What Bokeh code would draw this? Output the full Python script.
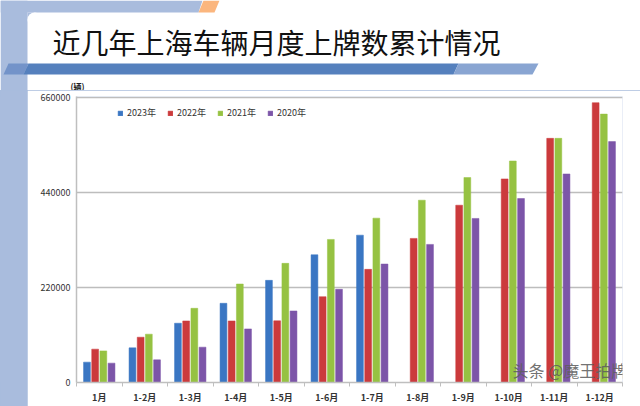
import numpy as np
from bokeh.plotting import figure
from bokeh.layouts import column, row
from bokeh.models import Range1d, FixedTicker, Label, Legend, LegendItem
from bokeh.embed import file_html
from bokeh.resources import INLINE

# ---------------- data ----------------
categories = ["1月", "1-2月", "1-3月", "1-4月", "1-5月", "1-6月", "1-7月",
              "1-8月", "1-9月", "1-10月", "1-11月", "1-12月"]
series_names = ["2023年", "2022年", "2021年", "2020年"]
v2023 = [47200, 80300, 137400, 183600, 236800, 296100, 341600]
v2022 = [77300, 105000, 142700, 142700, 143000, 198900, 262300, 334000, 411000, 471900, 566000, 648600]
v2021 = [73300, 112000, 172000, 228300, 276200, 331700, 381000, 422600, 475100, 513500, 566000, 622200]
v2020 = [44900, 52500, 81900, 124200, 165800, 216000, 274600, 320100, 380300, 426500, 483400, 558400]
y_ticks = [0, 220000, 440000, 660000]
title_text = "近几年上海车辆月度上牌数累计情况"
unit_text = "(辆)"
watermark = "头条 @魔王拍牌"

colors = ["#3a76c3", "#cb3a3c", "#96c242", "#7c55a8"]
FONT = "Noto Sans CJK SC"
STRIP = "#a9bcdd"

W, H = 640, 406
HEAD_H = 90          # header figure height
STRIP_W = 27         # left strip width
MAIN_H = H - HEAD_H

# ---------------- header (decorations + title) ----------------
hd = figure(width=W, height=HEAD_H, x_range=Range1d(0, W), y_range=Range1d(HEAD_H, 0),
            output_backend="svg", toolbar_location=None, x_axis_location=None,
            y_axis_location=None, min_border=0)
hd.background_fill_color = "white"
hd.border_fill_color = "white"
hd.outline_line_color = None
hd.xgrid.visible = False
hd.ygrid.visible = False

hd.patches(xs=[[0, STRIP_W, STRIP_W, 0],
               [0, 202, 198, 0],
               [STRIP_W, 34, 34, STRIP_W]],
           ys=[[0, 0, HEAD_H, HEAD_H],
               [0, 0, 12, 12],
               [12, 12, 19, 19]],
           fill_color=STRIP, line_color=None)
hd.circle(x=[34], y=[19], radius=7, fill_color="white", line_color=None)
hd.patches(xs=[[203, 219, 214, 198]], ys=[[0, 0, 12, 12]], fill_color="#fbb67e", line_color=None)
hd.patches(xs=[[8, 28, 23, 3], [28, 458, 453, 23], [458, 538, 532, 453]],
           ys=[[63, 63, 74, 74]] * 3,
           fill_color=["#7393c9", "#5580bd", "#89a5d2"], line_color=None)

hd.add_layout(Label(x=52, y=41, text=title_text, text_font=FONT, text_font_size="28px",
                    text_color="#111111", text_baseline="middle", text_align="left"))
hd.add_layout(Label(x=77, y=85.5, text=unit_text, text_font=FONT, text_font_size="8px",
                    text_font_style="bold", text_color="#222222",
                    text_baseline="middle", text_align="center"))

# ---------------- left strip ----------------
st = figure(width=STRIP_W, height=MAIN_H, output_backend="svg", toolbar_location=None,
            x_axis_location=None, y_axis_location=None, min_border=0,
            x_range=Range1d(0, 1), y_range=Range1d(0, 1))
st.background_fill_color = STRIP
st.border_fill_color = STRIP
st.outline_line_color = None
st.xgrid.visible = False
st.ygrid.visible = False

# ---------------- main chart ----------------
FL, FR, FT, FB = 76 - STRIP_W, 18, 96 - HEAD_H, 23
p = figure(width=W - STRIP_W, height=MAIN_H, x_range=Range1d(0, len(categories)),
           y_range=Range1d(0, 663000), output_backend="svg", toolbar_location=None,
           min_border_left=FL, min_border_right=FR, min_border_top=FT, min_border_bottom=FB)
p.background_fill_color = "white"
p.border_fill_color = "white"
p.outline_line_color = None

centers = np.arange(len(categories)) + 0.5
offsets = [-0.27, -0.09, 0.09, 0.27]
bw = 0.15
renderers = []
for vals, off, col in zip([v2023, v2022, v2021, v2020], offsets, colors):
    n = len(vals)
    r = p.vbar(x=centers[:n] + off, top=vals, width=bw, fill_color=col, line_color=col,
               line_width=0.5)
    renderers.append(r)

legend = Legend(items=[LegendItem(label=nm, renderers=[r]) for nm, r in zip(series_names, renderers)],
                orientation="horizontal", location=(41, 263),
                glyph_width=6, glyph_height=6, label_height=10, label_standoff=4, spacing=11,
                padding=0, margin=0, border_line_color=None, background_fill_alpha=0,
                label_text_font=FONT, label_text_font_size="9px", label_text_color="#333333")
p.add_layout(legend, "center")

p.xaxis.ticker = FixedTicker(ticks=list(centers), minor_ticks=list(range(len(categories) + 1)))
p.xaxis.major_label_overrides = {float(c): lab for c, lab in zip(centers, categories)}
p.xaxis.major_tick_line_color = None
p.xaxis.major_tick_out = 0
p.xaxis.major_tick_in = 0
p.xaxis.minor_tick_line_color = "#bfbfbf"
p.xaxis.minor_tick_out = 4
p.xaxis.minor_tick_in = 0
p.xaxis.axis_line_color = "#bfbfbf"
p.xaxis.axis_line_width = 1.5
p.xaxis.major_label_standoff = 4
p.xaxis.major_label_text_font = FONT
p.xaxis.major_label_text_font_size = "9px"
p.xaxis.major_label_text_font_style = "bold"
p.xaxis.major_label_text_color = "#333333"

p.yaxis.ticker = FixedTicker(ticks=y_ticks)
p.yaxis.formatter.use_scientific = False
p.yaxis.major_tick_line_color = None
p.yaxis.major_tick_out = 0
p.yaxis.major_tick_in = 0
p.yaxis.minor_tick_line_color = None
p.yaxis.axis_line_color = "#bfbfbf"
p.yaxis.axis_line_width = 1.5
p.yaxis.major_label_standoff = 6
p.yaxis.major_label_text_font = FONT
p.yaxis.major_label_text_font_size = "9px"
p.yaxis.major_label_text_color = "#333333"

p.xgrid.grid_line_color = None
p.ygrid.ticker = FixedTicker(ticks=y_ticks[1:])
p.ygrid.grid_line_color = "#bdbdbd"
p.ygrid.grid_line_width = 1.5

p.add_layout(Label(x=512 - 76, y=1, x_units="screen", y_units="screen", text=watermark,
                   text_font=FONT, text_font_size="16px", text_color="#5f5f5f", text_alpha=0.9,
                   text_baseline="bottom", text_align="left"))

layout = column(hd, row(st, p, spacing=0, styles={"background-color": STRIP}), spacing=0)
open("out.html", "w").write(file_html(layout, INLINE))
